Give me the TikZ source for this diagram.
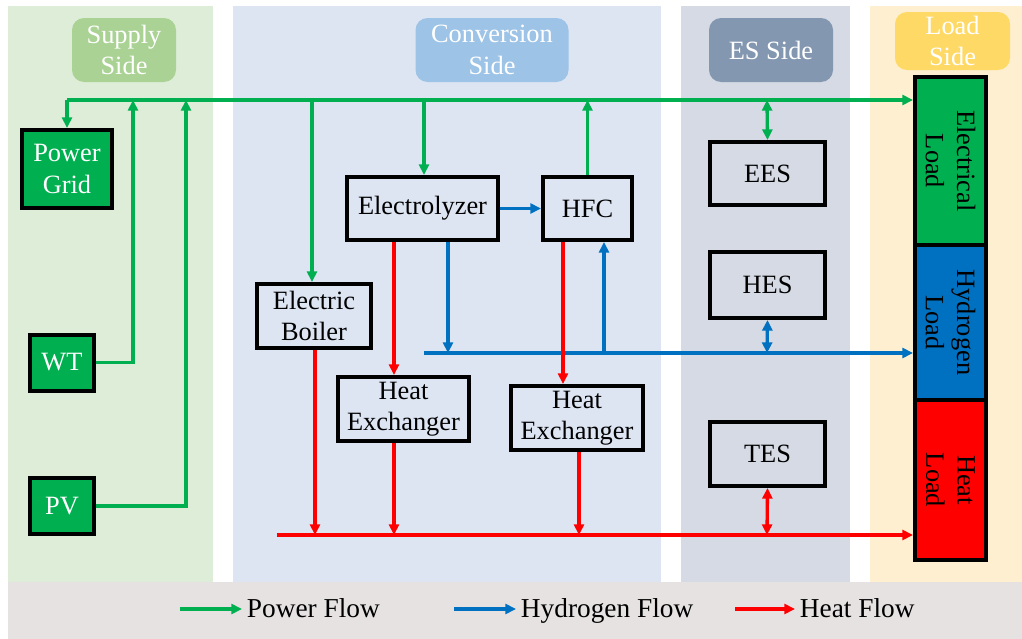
\documentclass[tikz,border=0pt]{standalone}
\usepackage{fontspec}
\setmainfont{Liberation Serif}
\usetikzlibrary{arrows.meta}
\definecolor{supbg}{HTML}{DEEDD8}
\definecolor{convbg}{HTML}{DDE5F3}
\definecolor{esbg}{HTML}{D5DAE4}
\definecolor{loadbg}{HTML}{FDEFCF}
\definecolor{legbg}{HTML}{E6E2E2}
\definecolor{suplab}{HTML}{AAD294}
\definecolor{convlab}{HTML}{9DC3E6}
\definecolor{eslab}{HTML}{8497B0}
\definecolor{loadlab}{HTML}{FFD966}
\definecolor{pgreen}{HTML}{00B050}
\definecolor{hblue}{HTML}{0070C0}
\definecolor{hred}{HTML}{FF0000}
\tikzset{
  txt/.style={font=\fontsize{19.8}{23.5}\selectfont},
  legtxt/.style={font=\fontsize{20.5}{24}\selectfont},
  sidelab/.style={txt, text=white, rounded corners=9pt, inner sep=0pt, align=center},
  blk/.style={txt, draw=black, line width=3pt, inner sep=0pt, align=center, fill=convbg},
  gblk/.style={blk, fill=pgreen, text=white},
  ldblk/.style={txt, draw=black, line width=3pt, inner sep=0pt, align=center},
  flow/.style={line width=2.5pt, -{Triangle[length=8pt,width=7.5pt]}},
  bflow/.style={line width=2.5pt, {Triangle[length=8pt,width=7.5pt]}-{Triangle[length=8pt,width=7.5pt]}},
}
\begin{document}
\begin{tikzpicture}[x=0.75pt,y=-0.75pt]
\useasboundingbox (0,0) rectangle (1022,639);
% backgrounds
\fill[white] (0,0) rectangle (1022,639);
\fill[supbg] (8,6) rectangle (213,582);
\fill[convbg] (233,6) rectangle (661,582);
\fill[esbg] (681,6) rectangle (850,582);
\fill[loadbg] (870,6) rectangle (1022,582);
\fill[legbg] (8,582) rectangle (1022,639);
% side labels
\node[sidelab, fill=suplab, minimum width=104*0.75pt, minimum height=64*0.75pt] (lsup) at (124,50) {Supply\\Side};
\node[sidelab, fill=convlab, minimum width=153*0.75pt, minimum height=64*0.75pt] (lconv) at (492,50) {Conversion\\Side};
\node[sidelab, fill=eslab, minimum width=124*0.75pt, minimum height=64*0.75pt] (les) at (771,50) {ES Side};
\node[sidelab, fill=loadlab, minimum width=115*0.75pt, minimum height=58*0.75pt] (lload) at (952.5,41) {Load\\Side};
% supply nodes
\node[gblk, minimum width=90*0.75pt, minimum height=78*0.75pt] (grid) at (67,169) {Power\\Grid};
\node[gblk, minimum width=64*0.75pt, minimum height=56*0.75pt] (wt) at (62,362.5) {WT};
\node[gblk, minimum width=64*0.75pt, minimum height=56*0.75pt] (pv) at (62,506) {PV};
% conversion nodes
\node[blk, minimum width=151*0.75pt, minimum height=63*0.75pt] (ely) at (422.5,208.5) {Electrolyzer};
\node[blk, minimum width=89*0.75pt, minimum height=63*0.75pt] (hfc) at (587.5,208.5) {HFC};
\node[blk, minimum width=114*0.75pt, minimum height=64*0.75pt] (eb) at (314,316) {Electric\\Boiler};
\node[blk, minimum width=131*0.75pt, minimum height=64*0.75pt] (he1) at (403.5,409) {Heat\\Exchanger};
\node[blk, minimum width=132*0.75pt, minimum height=64*0.75pt] (he2) at (577,418) {Heat\\Exchanger};
% storage nodes
\node[blk, fill=esbg, minimum width=115*0.75pt, minimum height=63*0.75pt] (ees) at (767.5,173.5) {EES};
\node[blk, fill=esbg, minimum width=115*0.75pt, minimum height=66*0.75pt] (hes) at (767.5,285) {HES};
\node[blk, fill=esbg, minimum width=115*0.75pt, minimum height=64*0.75pt] (tes) at (767.5,454) {TES};
% loads
\node[ldblk, fill=pgreen, minimum width=71*0.75pt, minimum height=168*0.75pt] (el) at (950.5,161) {};
\node[ldblk, fill=hblue, minimum width=71*0.75pt, minimum height=155*0.75pt] (hl) at (950.5,322.5) {};
\node[ldblk, fill=hred, minimum width=71*0.75pt, minimum height=160*0.75pt] (tl) at (950.5,480) {};
\node[txt, rotate=-90, align=center] (elt) at (el.center) {Electrical\\Load};
\node[txt, rotate=-90, align=center] (hlt) at (hl.center) {Hydrogen\\Load};
\node[txt, rotate=-90, align=center] (tlt) at (tl.center) {Heat\\Load};
% bus coordinates
\coordinate (pbL) at (67,100);
\coordinate (pbR) at (el.west |- 0,100);
\coordinate (hbL) at (424,353);
\coordinate (tbL) at (277,535);
% power flows
\draw[flow, pgreen] (pbL) -- (grid.north);
\draw[flow, pgreen] (pbL) -- (pbR);
\draw[flow, pgreen] (wt.east) -- (133,362.5) -- (133,100);
\draw[flow, pgreen] (pv.east) -- (186,506) -- (186,100);
\draw[flow, pgreen] (312,100) -- (eb.north -| 312,0);
\draw[flow, pgreen] (424,100) -- (ely.north -| 424,0);
\draw[flow, pgreen] (hfc.north) -- (hfc.north |- 0,100);
\draw[bflow, pgreen] (767,100) -- (ees.north);
% hydrogen flows
\draw[flow, hblue] (ely.east) -- (hfc.west);
\draw[flow, hblue] (ely.south -| 448,0) -- (448,353);
\draw[flow, hblue] (hbL) -- (hl.west |- 0,353);
\draw[flow, hblue] (604,353) -- (hfc.south -| 604,0);
\draw[bflow, hblue] (hes.south) -- (767,353);
% heat flows
\draw[flow, hred] (ely.south -| 394,0) -- (he1.north -| 394,0);
\draw[flow, hred] (hfc.south -| 563,0) -- (he2.north -| 563,0);
\draw[flow, hred] (tbL) -- (tl.west |- 0,535);
\draw[flow, hred] (eb.south -| 315,0) -- (315,535);
\draw[flow, hred] (he1.south -| 394,0) -- (394,535);
\draw[flow, hred] (he2.south -| 579,0) -- (579,535);
\draw[bflow, hred] (tes.south) -- (767,535);
% legend
\coordinate (lg1a) at (180,609);
\coordinate (lg1b) at (242,609);
\coordinate (lg2a) at (454,609);
\coordinate (lg2b) at (516,609);
\coordinate (lg3a) at (735,609);
\coordinate (lg3b) at (795,609);
\draw[flow, pgreen] (lg1a) -- (lg1b);
\node[legtxt, anchor=base west, inner sep=2pt] (lt1) at (244,617) {Power Flow};
\draw[flow, hblue] (lg2a) -- (lg2b);
\node[legtxt, anchor=base west, inner sep=2pt] (lt2) at (518,617) {Hydrogen Flow};
\draw[flow, hred] (lg3a) -- (lg3b);
\node[legtxt, anchor=base west, inner sep=2pt] (lt3) at (797,617) {Heat Flow};
\end{tikzpicture}
\end{document}
